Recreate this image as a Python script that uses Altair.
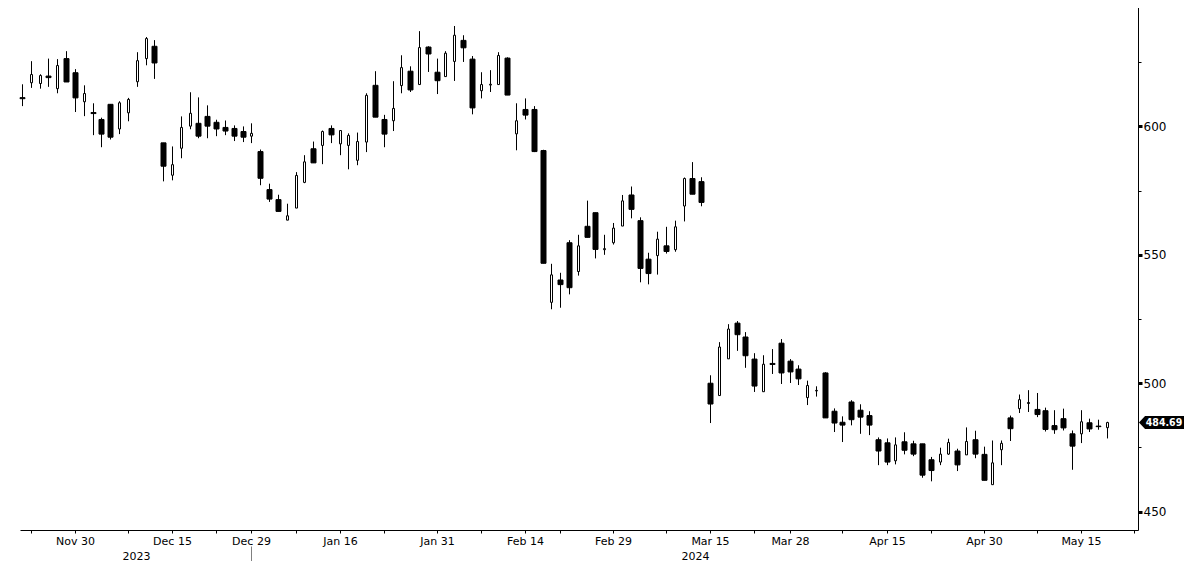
import altair as alt
import numpy as np
import pandas as pd

# ---------------- data ----------------
START = "2023-11-21"
HOLIDAYS = ["2023-11-23", "2023-12-25", "2024-01-01", "2024-01-15",
            "2024-02-19", "2024-03-29", "2024-05-27"]

opens = [611.2, 617.0, 616.7, 619.6, 614.7, 626.4, 620.9, 609.6, 605.4, 602.7,
         608.6, 599.0, 605.3, 617.4, 626.4, 631.2, 593.6, 581.0, 591.5, 600.1,
         601.2, 603.9, 601.6, 599.6, 599.2, 598.0, 596.2, 590.2, 575.4, 571.5,
         563.5, 568.2, 578.2, 591.3, 592.6, 599.2, 593.2, 592.6, 586.8, 593.9,
         616.0, 602.7, 602.2, 615.9, 621.5, 616.3, 630.9, 621.1, 619.4, 625.3,
         633.5, 626.2, 613.9, 616.1, 616.3, 626.6, 597.1, 606.6, 606.6, 590.6,
         531.5, 540.2, 554.7, 543.5, 561.1, 566.4, 552.0, 554.7, 561.2, 573.3,
         563.3, 548.3, 549.7, 553.5, 552.0, 569.0, 579.7, 578.5, 500.0, 495.2,
         509.5, 523.4, 518.0, 509.4, 496.7, 507.7, 515.6, 508.6, 505.5, 494.4,
         497.0, 504.0, 489.1, 484.8, 492.7, 489.5, 487.4, 478.0, 476.8, 469.8,
         477.2, 476.4, 476.4, 470.2, 469.3, 472.4, 473.6, 472.1, 478.0, 472.3,
         460.5, 474.1, 486.5, 490.1, 492.1, 489.8, 489.3, 483.5, 486.2, 480.3,
         480.3, 484.6, 483.3, 482.7]
highs = [616.4, 625.4, 620.3, 626.4, 626.2, 629.3, 622.3, 616.0, 609.0, 603.4,
         608.6, 609.8, 611.1, 628.9, 634.8, 633.6, 593.6, 592.2, 603.9, 613.3,
         611.3, 608.2, 602.6, 602.3, 600.4, 600.0, 601.2, 591.0, 577.7, 573.4,
         569.9, 582.2, 588.8, 594.1, 598.4, 600.4, 598.4, 597.3, 597.6, 612.9,
         621.5, 604.5, 617.6, 627.7, 623.4, 637.1, 631.2, 626.4, 629.3, 639.1,
         635.5, 627.4, 621.1, 621.9, 628.9, 626.9, 609.0, 610.9, 607.9, 590.9,
         546.5, 543.0, 555.7, 557.8, 571.1, 566.4, 557.8, 562.4, 573.3, 576.6,
         564.6, 550.8, 559.0, 560.9, 563.3, 580.1, 586.1, 580.2, 503.1, 516.0,
         523.0, 524.2, 519.9, 511.7, 510.9, 513.3, 517.2, 509.4, 507.0, 501.0,
         498.8, 504.3, 490.2, 487.1, 493.4, 491.8, 489.1, 478.9, 478.5, 478.9,
         480.9, 477.6, 476.4, 471.3, 474.9, 478.4, 474.5, 482.8, 481.5, 475.3,
         477.7, 477.7, 487.4, 495.6, 497.3, 496.2, 490.5, 489.5, 490.1, 481.6,
         489.5, 486.2, 485.8, 485.0]
lows = [607.9, 615.0, 614.7, 615.4, 612.9, 617.3, 605.6, 604.0, 596.6, 591.9,
        594.9, 597.0, 602.0, 615.4, 623.8, 618.5, 578.6, 579.0, 587.6, 598.9,
        595.4, 595.4, 596.2, 596.6, 594.3, 593.9, 593.5, 577.1, 570.6, 566.9,
        563.5, 568.2, 577.9, 585.8, 585.3, 593.5, 588.8, 583.3, 584.9, 590.0,
        603.6, 591.9, 598.2, 612.9, 613.4, 616.3, 621.2, 612.6, 619.4, 617.7,
        625.1, 604.7, 610.9, 613.4, 616.3, 612.2, 590.7, 602.7, 590.0, 546.7,
        528.8, 529.4, 534.6, 541.9, 556.8, 548.6, 550.0, 554.0, 561.2, 564.2,
        539.3, 538.5, 542.3, 550.5, 551.2, 563.0, 573.6, 568.9, 484.5, 495.2,
        509.5, 512.6, 506.0, 496.6, 496.7, 503.6, 499.7, 500.1, 499.3, 491.5,
        494.8, 486.5, 481.0, 477.1, 483.6, 480.3, 479.8, 468.1, 468.1, 468.4,
        472.3, 471.6, 463.2, 461.8, 468.1, 472.1, 465.8, 472.1, 470.8, 462.2,
        460.5, 468.1, 477.5, 488.4, 488.8, 486.8, 481.2, 480.3, 481.6, 466.3,
        476.7, 481.0, 481.9, 478.5]
closes = [610.8, 620.2, 619.8, 619.0, 623.7, 617.3, 611.1, 612.8, 605.0, 597.0,
          595.8, 609.2, 610.5, 625.6, 634.2, 624.7, 584.5, 585.1, 599.6, 605.1,
          596.2, 600.1, 599.0, 598.2, 596.2, 595.8, 597.3, 579.8, 571.7, 566.9,
          565.2, 580.9, 586.2, 585.8, 598.0, 596.7, 598.4, 596.5, 594.1, 612.1,
          603.6, 597.0, 607.0, 622.9, 614.2, 630.7, 628.2, 617.8, 628.5, 635.5,
          630.6, 607.2, 616.3, 616.4, 627.6, 612.2, 602.2, 604.4, 590.2, 546.7,
          542.2, 538.4, 537.2, 553.5, 556.8, 552.1, 552.4, 560.4, 571.0, 567.7,
          544.7, 542.7, 556.1, 551.3, 560.9, 579.7, 573.6, 570.4, 491.9, 514.1,
          521.1, 518.9, 510.7, 498.9, 507.4, 507.3, 504.0, 504.4, 501.7, 499.1,
          497.2, 486.5, 484.5, 483.7, 485.8, 486.8, 483.7, 473.6, 469.3, 476.0,
          473.9, 472.4, 464.2, 466.0, 472.4, 476.9, 468.2, 477.3, 472.4, 462.2,
          469.0, 476.6, 482.3, 493.6, 492.5, 487.8, 482.0, 481.9, 482.6, 475.5,
          485.0, 482.2, 483.1, 484.69]

major_dates = ["2023-11-30", "2023-12-15", "2023-12-29", "2024-01-16",
               "2024-01-31", "2024-02-14", "2024-02-29", "2024-03-15",
               "2024-03-28", "2024-04-15", "2024-04-30", "2024-05-15"]
major_labels = ["Nov 30", "Dec 15", "Dec 29", "Jan 16", "Jan 31", "Feb 14",
                "Feb 29", "Mar 15", "Mar 28", "Apr 15", "Apr 30", "May 15"]
minor_dates = ["2023-11-22", "2023-12-08", "2023-12-22", "2024-01-08",
               "2024-01-23", "2024-02-07", "2024-02-21", "2024-03-08",
               "2024-03-22", "2024-04-08", "2024-04-22", "2024-05-08",
               "2024-05-23"]
years = ["2023", "2024"]
year_break_date = "2023-12-29"
y_major = [450, 500, 550, 600, 650]
y_minor = [475, 525, 575, 625]

# ---------------- build tables ----------------
bday = pd.offsets.CustomBusinessDay(holidays=HOLIDAYS)
all_days = pd.date_range(START, periods=140, freq=bday).strftime("%Y-%m-%d").tolist()
day_index = {d: i for i, d in enumerate(all_days)}

n = len(closes)
df = pd.DataFrame({
    "i": np.arange(n),
    "date": all_days[:n],
    "open": opens, "high": highs, "low": lows, "close": closes,
})

XMIN, XMAX = -0.23, 126.5
YMIN, YMAX = 442.85, 650.0

major_idx = [day_index[d] for d in major_dates]
minor_idx = [day_index[d] for d in minor_dates]
tick_idx = sorted(major_idx + minor_idx)
label_expr = " : ".join(
    f"datum.value == {i} ? '{l}'" for i, l in zip(major_idx, major_labels)
) + " : ''"

sep_idx = day_index[year_break_date]
year_pos = [(XMIN + sep_idx) / 2, (sep_idx + XMAX) / 2]
year_expr = f"datum.value < {sep_idx} ? '{years[0]}' : '{years[1]}'"

FONT = "DejaVu Sans"
xscale = alt.Scale(domain=[XMIN, XMAX], nice=False, zero=False, round=True, padding=0)
yscale = alt.Scale(domain=[YMIN, YMAX], nice=False, zero=False, padding=0)

x_axis = alt.Axis(values=tick_idx, labelExpr=label_expr, orient="bottom",
                  title=None, grid=False, domainColor="black", domainWidth=1,
                  tickColor="black", tickWidth=1, tickSize=3,
                  labelFont=FONT, labelFontSize=11, labelColor="black",
                  labelPadding=2, labelOverlap=False, labelFlush=False)
y_axis = alt.Axis(values=y_major, orient="right", title=None, grid=False,
                  domainColor="black", domainWidth=1, tickColor="black",
                  tickSize=4, tickWidth=3, format="d",
                  labelFont=FONT, labelFontSize=12, labelColor="black",
                  labelPadding=1, labelOverlap=False, labelFlush=False)
y_minor_axis = alt.Axis(values=y_minor, orient="right", title=None, grid=False,
                        domain=False, labels=False, tickColor="black",
                        tickSize=3, tickWidth=1)

base = alt.Chart(df)

wicks = base.mark_rule(color="black", strokeWidth=1, xOffset=0.5).encode(
    x=alt.X("i:Q", scale=xscale, axis=x_axis),
    y=alt.Y("low:Q", scale=yscale, axis=y_axis),
    y2="high:Q",
)

minor_layer = alt.Chart(pd.DataFrame({"v": y_minor})).mark_point(opacity=0).encode(
    y=alt.Y("v:Q", scale=yscale, axis=y_minor_axis)
)

up = base.transform_filter("datum.close >= datum.open").mark_bar(
    size=2, fill="white", stroke="black", strokeWidth=1, xOffset=0.5
).encode(
    x=alt.X("i:Q", scale=xscale, axis=None),
    y=alt.Y("open:Q", scale=yscale, axis=None),
    y2="close:Q",
)

down = base.transform_filter("datum.close < datum.open").mark_bar(
    size=5, fill="black", stroke="black", strokeWidth=1, xOffset=0.5
).encode(
    x=alt.X("i:Q", scale=xscale, axis=None),
    y=alt.Y("open:Q", scale=yscale, axis=None),
    y2="close:Q",
)

year_layer = alt.Chart(pd.DataFrame({"pos": year_pos})).mark_point(opacity=0).encode(
    x=alt.X("pos:Q", scale=xscale,
            axis=alt.Axis(values=year_pos, labelExpr=year_expr, orient="bottom",
                          title=None, grid=False, domain=False, ticks=False,
                          labelFont=FONT, labelFontSize=11, labelColor="black",
                          labelPadding=20, labelOverlap=False, labelFlush=False))
)

sep_layer = alt.Chart(pd.DataFrame({"pos": [sep_idx]})).mark_point(opacity=0).encode(
    x=alt.X("pos:Q", scale=xscale,
            axis=alt.Axis(values=[sep_idx], orient="bottom", title=None,
                          grid=False, domain=False, labels=False, ticks=True,
                          tickSize=18, tickWidth=1, tickColor="#808080",
                          offset=16))
)

TAG_PATH = "M-1,0L-0.73,-0.29L1,-0.29L1,0.29L-0.73,0.29Z"
last = df.tail(1)
tag = alt.Chart(last).mark_point(
    shape=TAG_PATH, size=2025, filled=True, color="black", opacity=1, strokeWidth=0
).encode(
    x=alt.value(1141.5),
    y=alt.Y("close:Q", scale=yscale, axis=None),
)
tag_text = alt.Chart(last).mark_text(
    font="DejaVu Sans Condensed, DejaVu Sans", fontSize=10.5, fontWeight="bold",
    color="white", align="center", baseline="middle"
).encode(
    x=alt.value(1144),
    y=alt.Y("close:Q", scale=yscale, axis=None),
    text=alt.Text("close:Q", format=".2f"),
)

chart = alt.layer(
    wicks, minor_layer, up, down, year_layer, sep_layer, tag, tag_text
).resolve_scale(x="shared", y="shared").resolve_axis(
    x="independent", y="independent"
).properties(
    width=1118, height=532,
    autosize=alt.AutoSizeParams(type="none"),
    padding={"left": 12, "top": -10, "right": 46, "bottom": 31},
    background="white",
).configure_view(strokeWidth=0)

chart.save("out.html", embed_options={"renderer": "svg", "actions": False})
